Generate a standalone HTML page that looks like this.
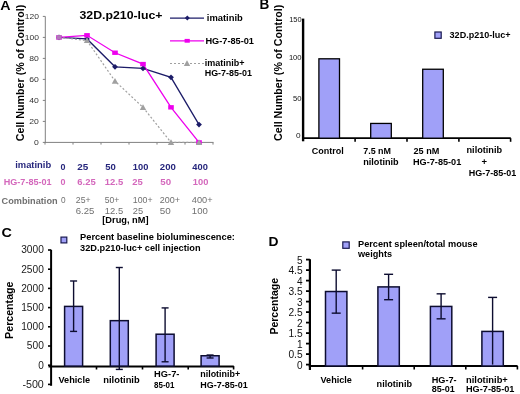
<!DOCTYPE html>
<html><head><meta charset="utf-8"><style>
html,body{margin:0;padding:0;background:#fff;}
body{width:520px;height:394px;overflow:hidden;}
svg{display:block;font-family:"Liberation Sans", sans-serif;will-change:transform;}
</style></head><body>
<svg width="520" height="394" viewBox="0 0 520 394">
<rect width="520" height="394" fill="#fff"/>
<text x="0.2" y="9.7" font-size="13.6" font-weight="bold" fill="#000" textLength="10.3" lengthAdjust="spacingAndGlyphs">A</text>
<text x="79.5" y="19.2" font-size="11.2" font-weight="bold" fill="#000" textLength="83" lengthAdjust="spacingAndGlyphs">32D.p210-luc+</text>
<text transform="translate(23.7,73) rotate(-90)" x="0" y="0" font-size="11.2" font-weight="bold" fill="#000" text-anchor="middle" textLength="136.5" lengthAdjust="spacingAndGlyphs">Cell Number (% of Control)</text>
<line x1="45.3" y1="16.4" x2="45.3" y2="142.9" stroke="#808080" stroke-width="1"/>
<line x1="44.8" y1="142.4" x2="213.5" y2="142.4" stroke="#808080" stroke-width="1"/>
<line x1="42.8" y1="16.400000000000006" x2="45.3" y2="16.400000000000006" stroke="#808080" stroke-width="1"/>
<text x="38.9" y="19.000000000000007" font-size="7.3" fill="#333" text-anchor="end" textLength="14.2" lengthAdjust="spacingAndGlyphs">120</text>
<line x1="42.8" y1="37.400000000000006" x2="45.3" y2="37.400000000000006" stroke="#808080" stroke-width="1"/>
<text x="38.9" y="40.00000000000001" font-size="7.3" fill="#333" text-anchor="end" textLength="14.2" lengthAdjust="spacingAndGlyphs">100</text>
<line x1="42.8" y1="58.400000000000006" x2="45.3" y2="58.400000000000006" stroke="#808080" stroke-width="1"/>
<text x="38.9" y="61.00000000000001" font-size="7.3" fill="#333" text-anchor="end" textLength="9.6" lengthAdjust="spacingAndGlyphs">80</text>
<line x1="42.8" y1="79.4" x2="45.3" y2="79.4" stroke="#808080" stroke-width="1"/>
<text x="38.9" y="82.0" font-size="7.3" fill="#333" text-anchor="end" textLength="9.6" lengthAdjust="spacingAndGlyphs">60</text>
<line x1="42.8" y1="100.4" x2="45.3" y2="100.4" stroke="#808080" stroke-width="1"/>
<text x="38.9" y="103.0" font-size="7.3" fill="#333" text-anchor="end" textLength="9.6" lengthAdjust="spacingAndGlyphs">40</text>
<line x1="42.8" y1="121.4" x2="45.3" y2="121.4" stroke="#808080" stroke-width="1"/>
<text x="38.9" y="124.0" font-size="7.3" fill="#333" text-anchor="end" textLength="9.6" lengthAdjust="spacingAndGlyphs">20</text>
<line x1="42.8" y1="142.4" x2="45.3" y2="142.4" stroke="#808080" stroke-width="1"/>
<text x="38.9" y="145.0" font-size="7.3" fill="#333" text-anchor="end" textLength="4.8" lengthAdjust="spacingAndGlyphs">0</text>
<line x1="45" y1="142.4" x2="45" y2="144.6" stroke="#808080" stroke-width="1"/>
<line x1="73" y1="142.4" x2="73" y2="144.6" stroke="#808080" stroke-width="1"/>
<line x1="101" y1="142.4" x2="101" y2="144.6" stroke="#808080" stroke-width="1"/>
<line x1="129" y1="142.4" x2="129" y2="144.6" stroke="#808080" stroke-width="1"/>
<line x1="157" y1="142.4" x2="157" y2="144.6" stroke="#808080" stroke-width="1"/>
<line x1="185" y1="142.4" x2="185" y2="144.6" stroke="#808080" stroke-width="1"/>
<line x1="213" y1="142.4" x2="213" y2="144.6" stroke="#808080" stroke-width="1"/>
<polyline points="59,37.40 87,38.97 115,66.80 143,68.38 171,77.30 199,124.55" fill="none" stroke="#1c1c68" stroke-width="1.3"/>
<polyline points="59,37.40 87,35.30 115,52.73 143,64.07 171,107.33 199,142.40" fill="none" stroke="#ee00ee" stroke-width="1.3"/>
<polyline points="59,37.40 87,40.55 115,81.08 143,107.33 171,142.40 199,142.40" fill="none" stroke="#a0a0a0" stroke-width="1.2" stroke-dasharray="2,2"/>
<path d="M59,34.50000000000001 L61.9,37.400000000000006 L59,40.300000000000004 L56.1,37.400000000000006 Z" fill="#1c1c68" stroke="none" stroke-width="1"/>
<path d="M87,36.074999999999996 L89.9,38.974999999999994 L87,41.87499999999999 L84.1,38.974999999999994 Z" fill="#1c1c68" stroke="none" stroke-width="1"/>
<path d="M115,63.9 L117.9,66.8 L115,69.7 L112.1,66.8 Z" fill="#1c1c68" stroke="none" stroke-width="1"/>
<path d="M143,65.475 L145.9,68.375 L143,71.275 L140.1,68.375 Z" fill="#1c1c68" stroke="none" stroke-width="1"/>
<path d="M171,74.39999999999999 L173.9,77.3 L171,80.2 L168.1,77.3 Z" fill="#1c1c68" stroke="none" stroke-width="1"/>
<path d="M199,121.65 L201.9,124.55000000000001 L199,127.45000000000002 L196.1,124.55000000000001 Z" fill="#1c1c68" stroke="none" stroke-width="1"/>
<rect x="56.2" y="35.2" width="5.6" height="4.4" fill="#ee00ee"/>
<rect x="84.2" y="33.099999999999994" width="5.6" height="4.4" fill="#ee00ee"/>
<rect x="112.2" y="50.52999999999999" width="5.6" height="4.4" fill="#ee00ee"/>
<rect x="140.2" y="61.870000000000005" width="5.6" height="4.4" fill="#ee00ee"/>
<rect x="168.2" y="105.13000000000001" width="5.6" height="4.4" fill="#ee00ee"/>
<rect x="196.2" y="140.20000000000002" width="5.6" height="4.4" fill="#ee00ee"/>
<path d="M87,37.349999999999994 L90.2,43.11 L83.8,43.11 Z" fill="#a0a0a0" stroke="none" stroke-width="1"/>
<path d="M115,77.88000000000001 L118.2,83.64000000000001 L111.8,83.64000000000001 Z" fill="#a0a0a0" stroke="none" stroke-width="1"/>
<path d="M143,104.13000000000001 L146.2,109.89000000000001 L139.8,109.89000000000001 Z" fill="#a0a0a0" stroke="none" stroke-width="1"/>
<path d="M171,139.20000000000002 L174.2,144.96 L167.8,144.96 Z" fill="#a0a0a0" stroke="none" stroke-width="1"/>
<path d="M199,139.20000000000002 L202.2,144.96 L195.8,144.96 Z" fill="#a0a0a0" stroke="none" stroke-width="1"/>
<rect x="56.4" y="35.2" width="5.2" height="4.4" fill="#b07ab8"/>
<line x1="170" y1="18.1" x2="204" y2="18.1" stroke="#1c1c68" stroke-width="1.3"/>
<path d="M187.3,15.600000000000001 L189.8,18.1 L187.3,20.6 L184.8,18.1 Z" fill="#1c1c68" stroke="none" stroke-width="1"/>
<text x="206.8" y="21.4" font-size="9.3" font-weight="bold" fill="#000" textLength="36" lengthAdjust="spacingAndGlyphs">imatinib</text>
<line x1="170" y1="40.8" x2="204" y2="40.8" stroke="#ee00ee" stroke-width="1.3"/>
<rect x="184.6" y="38.9" width="5.2" height="3.8" fill="#ee00ee"/>
<text x="205.4" y="44.2" font-size="9.3" font-weight="bold" fill="#000" textLength="48.6" lengthAdjust="spacingAndGlyphs">HG-7-85-01</text>
<line x1="170" y1="63.5" x2="204" y2="63.5" stroke="#a0a0a0" stroke-width="1.2" stroke-dasharray="2,2"/>
<path d="M187,60.3 L190.2,66.06 L183.8,66.06 Z" fill="#a0a0a0" stroke="none" stroke-width="1"/>
<text x="204.7" y="65.8" font-size="9.3" font-weight="bold" fill="#000" textLength="39.8" lengthAdjust="spacingAndGlyphs">imatinib+</text>
<text x="204.7" y="76.4" font-size="9.3" font-weight="bold" fill="#000" textLength="47.2" lengthAdjust="spacingAndGlyphs">HG-7-85-01</text>
<text x="15.2" y="167.9" font-size="9.3" font-weight="bold" fill="#26267c" textLength="36" lengthAdjust="spacingAndGlyphs">imatinib</text>
<text x="3.7" y="185.3" font-size="9" font-weight="bold" fill="#d468bc" textLength="48" lengthAdjust="spacingAndGlyphs">HG-7-85-01</text>
<text x="1.6" y="203.6" font-size="9.2" font-weight="bold" fill="#707070" textLength="56" lengthAdjust="spacingAndGlyphs">Combination</text>
<text x="60.4" y="169.8" font-size="8.3" font-weight="bold" fill="#26267c" textLength="5" lengthAdjust="spacingAndGlyphs">0</text>
<text x="77.3" y="169.8" font-size="8.3" font-weight="bold" fill="#26267c" textLength="11" lengthAdjust="spacingAndGlyphs">25</text>
<text x="105.3" y="169.8" font-size="8.3" font-weight="bold" fill="#26267c" textLength="10.6" lengthAdjust="spacingAndGlyphs">50</text>
<text x="132.8" y="169.8" font-size="8.3" font-weight="bold" fill="#26267c" textLength="15.5" lengthAdjust="spacingAndGlyphs">100</text>
<text x="159.8" y="169.8" font-size="8.3" font-weight="bold" fill="#26267c" textLength="16" lengthAdjust="spacingAndGlyphs">200</text>
<text x="192.3" y="169.8" font-size="8.3" font-weight="bold" fill="#26267c" textLength="15.5" lengthAdjust="spacingAndGlyphs">400</text>
<text x="60.4" y="184.8" font-size="8.3" font-weight="bold" fill="#d468bc" textLength="5" lengthAdjust="spacingAndGlyphs">0</text>
<text x="77.3" y="184.8" font-size="8.3" font-weight="bold" fill="#d468bc" textLength="18.4" lengthAdjust="spacingAndGlyphs">6.25</text>
<text x="104.8" y="184.8" font-size="8.3" font-weight="bold" fill="#d468bc" textLength="18.4" lengthAdjust="spacingAndGlyphs">12.5</text>
<text x="132.3" y="184.8" font-size="8.3" font-weight="bold" fill="#d468bc" textLength="10.5" lengthAdjust="spacingAndGlyphs">25</text>
<text x="160.3" y="184.8" font-size="8.3" font-weight="bold" fill="#d468bc" textLength="10.8" lengthAdjust="spacingAndGlyphs">50</text>
<text x="192.8" y="184.8" font-size="8.3" font-weight="bold" fill="#d468bc" textLength="15.5" lengthAdjust="spacingAndGlyphs">100</text>
<text x="60.9" y="202.8" font-size="8.8" fill="#707070" textLength="4.6" lengthAdjust="spacingAndGlyphs">0</text>
<text x="75.8" y="202.8" font-size="8.8" fill="#707070" textLength="14.8" lengthAdjust="spacingAndGlyphs">25+</text>
<text x="104.8" y="202.8" font-size="8.8" fill="#707070" textLength="14.6" lengthAdjust="spacingAndGlyphs">50+</text>
<text x="132.8" y="202.8" font-size="8.8" fill="#707070" textLength="19.8" lengthAdjust="spacingAndGlyphs">100+</text>
<text x="159.8" y="202.8" font-size="8.8" fill="#707070" textLength="20.3" lengthAdjust="spacingAndGlyphs">200+</text>
<text x="191.8" y="202.8" font-size="8.8" fill="#707070" textLength="20.8" lengthAdjust="spacingAndGlyphs">400+</text>
<text x="75.8" y="213.8" font-size="8.8" fill="#707070" textLength="18.6" lengthAdjust="spacingAndGlyphs">6.25</text>
<text x="104.8" y="213.8" font-size="8.8" fill="#707070" textLength="18.4" lengthAdjust="spacingAndGlyphs">12.5</text>
<text x="132.8" y="213.8" font-size="8.8" fill="#707070" textLength="10.4" lengthAdjust="spacingAndGlyphs">25</text>
<text x="159.8" y="213.8" font-size="8.8" fill="#707070" textLength="11" lengthAdjust="spacingAndGlyphs">50</text>
<text x="191.8" y="213.8" font-size="8.8" fill="#707070" textLength="16" lengthAdjust="spacingAndGlyphs">100</text>
<text x="102.3" y="222.9" font-size="9.5" font-weight="bold" fill="#000" textLength="46.2" lengthAdjust="spacingAndGlyphs">[Drug, nM]</text>
<text x="259.4" y="9.3" font-size="14.2" font-weight="bold" fill="#000" textLength="9.8" lengthAdjust="spacingAndGlyphs">B</text>
<text transform="translate(282.1,72.8) rotate(-90)" x="0" y="0" font-size="11.2" font-weight="bold" fill="#000" text-anchor="middle" textLength="136.2" lengthAdjust="spacingAndGlyphs">Cell Number (% of Control)</text>
<line x1="303.1" y1="18.6" x2="303.1" y2="141.3" stroke="#000" stroke-width="2.4"/>
<line x1="302" y1="138.2" x2="510.8" y2="138.2" stroke="#000" stroke-width="1.7"/>
<line x1="355.1" y1="138.2" x2="355.1" y2="141.8" stroke="#000" stroke-width="1.6"/>
<line x1="407.0" y1="138.2" x2="407.0" y2="141.8" stroke="#000" stroke-width="1.6"/>
<line x1="458.9" y1="138.2" x2="458.9" y2="141.8" stroke="#000" stroke-width="1.6"/>
<line x1="510.6" y1="138.2" x2="510.6" y2="141.8" stroke="#000" stroke-width="1.6"/>
<text x="301.6" y="22.2" font-size="7.6" fill="#111" text-anchor="end" textLength="12.4" lengthAdjust="spacingAndGlyphs">150</text>
<text x="301.6" y="59.9" font-size="7.6" fill="#111" text-anchor="end" textLength="12.7" lengthAdjust="spacingAndGlyphs">100</text>
<text x="301.6" y="101.2" font-size="7.6" fill="#111" text-anchor="end" textLength="8.5" lengthAdjust="spacingAndGlyphs">50</text>
<text x="300.6" y="137.5" font-size="7.6" fill="#111" text-anchor="end" textLength="4.6" lengthAdjust="spacingAndGlyphs">0</text>
<rect x="318.9" y="58.79999999999998" width="20.6" height="79.4" fill="#a0a0f8" stroke="#000" stroke-width="1.3"/>
<rect x="370.7" y="123.44149999999999" width="20.6" height="14.758499999999998" fill="#a0a0f8" stroke="#000" stroke-width="1.3"/>
<rect x="422.7" y="69.23899999999999" width="20.6" height="68.961" fill="#a0a0f8" stroke="#000" stroke-width="1.3"/>
<rect x="434.9" y="32" width="6.3" height="6.3" fill="#a0a0f8" stroke="#1a1a50" stroke-width="1.2"/>
<text x="449.6" y="38.4" font-size="9" font-weight="bold" fill="#000" textLength="61" lengthAdjust="spacingAndGlyphs">32D.p210-luc+</text>
<text x="311.7" y="153.8" font-size="9.5" font-weight="bold" fill="#000" textLength="32" lengthAdjust="spacingAndGlyphs">Control</text>
<text x="363.2" y="153.8" font-size="9.5" font-weight="bold" fill="#000" textLength="27.8" lengthAdjust="spacingAndGlyphs">7.5 nM</text>
<text x="363.2" y="164.7" font-size="9.5" font-weight="bold" fill="#000" textLength="35.5" lengthAdjust="spacingAndGlyphs">nilotinib</text>
<text x="413.5" y="153.6" font-size="9.5" font-weight="bold" fill="#000" textLength="25.8" lengthAdjust="spacingAndGlyphs">25 nM</text>
<text x="413.0" y="164.7" font-size="9.5" font-weight="bold" fill="#000" textLength="48.3" lengthAdjust="spacingAndGlyphs">HG-7-85-01</text>
<text x="466.5" y="153.4" font-size="9.5" font-weight="bold" fill="#000" textLength="35.6" lengthAdjust="spacingAndGlyphs">nilotinib</text>
<text x="484.3" y="165.0" font-size="9.5" font-weight="bold" fill="#000" text-anchor="middle">+</text>
<text x="468.8" y="176.2" font-size="9.5" font-weight="bold" fill="#000" textLength="47.5" lengthAdjust="spacingAndGlyphs">HG-7-85-01</text>
<text x="1.5" y="236.8" font-size="13.6" font-weight="bold" fill="#000" textLength="10.4" lengthAdjust="spacingAndGlyphs">C</text>
<text transform="translate(13.2,310.2) rotate(-90)" x="0" y="0" font-size="10.8" font-weight="bold" fill="#000" text-anchor="middle" textLength="57.4" lengthAdjust="spacingAndGlyphs">Percentage</text>
<line x1="51.1" y1="249.7" x2="51.1" y2="385.8" stroke="#000" stroke-width="2"/>
<line x1="48.5" y1="366.5" x2="233.8" y2="366.5" stroke="#000" stroke-width="2"/>
<line x1="48" y1="250.0" x2="51" y2="250.0" stroke="#000" stroke-width="1.6"/>
<text x="43.8" y="253.4" font-size="10.3" fill="#1a1a1a" text-anchor="end" textLength="22.6" lengthAdjust="spacingAndGlyphs">3000</text>
<line x1="48" y1="269.2" x2="51" y2="269.2" stroke="#000" stroke-width="1.6"/>
<text x="43.8" y="272.59999999999997" font-size="10.3" fill="#1a1a1a" text-anchor="end" textLength="22.6" lengthAdjust="spacingAndGlyphs">2500</text>
<line x1="48" y1="288.4" x2="51" y2="288.4" stroke="#000" stroke-width="1.6"/>
<text x="43.8" y="291.79999999999995" font-size="10.3" fill="#1a1a1a" text-anchor="end" textLength="22.6" lengthAdjust="spacingAndGlyphs">2000</text>
<line x1="48" y1="307.6" x2="51" y2="307.6" stroke="#000" stroke-width="1.6"/>
<text x="43.8" y="311.0" font-size="10.3" fill="#1a1a1a" text-anchor="end" textLength="22.6" lengthAdjust="spacingAndGlyphs">1500</text>
<line x1="48" y1="326.8" x2="51" y2="326.8" stroke="#000" stroke-width="1.6"/>
<text x="43.8" y="330.2" font-size="10.3" fill="#1a1a1a" text-anchor="end" textLength="22.6" lengthAdjust="spacingAndGlyphs">1000</text>
<line x1="48" y1="346.0" x2="51" y2="346.0" stroke="#000" stroke-width="1.6"/>
<text x="43.8" y="349.4" font-size="10.3" fill="#1a1a1a" text-anchor="end" textLength="17" lengthAdjust="spacingAndGlyphs">500</text>
<line x1="48" y1="365.2" x2="51" y2="365.2" stroke="#000" stroke-width="1.6"/>
<text x="43.8" y="368.59999999999997" font-size="10.3" fill="#1a1a1a" text-anchor="end" textLength="5.6" lengthAdjust="spacingAndGlyphs">0</text>
<line x1="48" y1="384.4" x2="51" y2="384.4" stroke="#000" stroke-width="1.6"/>
<text x="43.8" y="387.79999999999995" font-size="10.3" fill="#1a1a1a" text-anchor="end" textLength="21.4" lengthAdjust="spacingAndGlyphs">-500</text>
<line x1="96.5" y1="366.1" x2="96.5" y2="369.5" stroke="#000" stroke-width="1.6"/>
<line x1="142.5" y1="366.1" x2="142.5" y2="369.5" stroke="#000" stroke-width="1.6"/>
<line x1="188.2" y1="366.1" x2="188.2" y2="369.5" stroke="#000" stroke-width="1.6"/>
<line x1="233.6" y1="366.1" x2="233.6" y2="369.5" stroke="#000" stroke-width="1.6"/>
<rect x="64.6" y="306.4096" width="18" height="59.69040000000001" fill="#a0a0f8" stroke="#0d0d30" stroke-width="1.5"/>
<line x1="73.6" y1="280.98879999999997" x2="73.6" y2="331.408" stroke="#0d0d30" stroke-width="1.4"/>
<line x1="70.1" y1="280.98879999999997" x2="77.1" y2="280.98879999999997" stroke="#0d0d30" stroke-width="1.4"/>
<line x1="70.1" y1="331.408" x2="77.1" y2="331.408" stroke="#0d0d30" stroke-width="1.4"/>
<rect x="110.3" y="320.656" width="18" height="45.44400000000002" fill="#a0a0f8" stroke="#0d0d30" stroke-width="1.5"/>
<line x1="119.3" y1="267.5104" x2="119.3" y2="369.424" stroke="#0d0d30" stroke-width="1.4"/>
<line x1="115.8" y1="267.5104" x2="122.8" y2="267.5104" stroke="#0d0d30" stroke-width="1.4"/>
<line x1="115.8" y1="369.424" x2="122.8" y2="369.424" stroke="#0d0d30" stroke-width="1.4"/>
<rect x="156.1" y="334.21119999999996" width="18" height="31.88880000000006" fill="#a0a0f8" stroke="#0d0d30" stroke-width="1.5"/>
<line x1="165.1" y1="307.9072" x2="165.1" y2="361.7824" stroke="#0d0d30" stroke-width="1.4"/>
<line x1="161.6" y1="307.9072" x2="168.6" y2="307.9072" stroke="#0d0d30" stroke-width="1.4"/>
<line x1="161.6" y1="361.7824" x2="168.6" y2="361.7824" stroke="#0d0d30" stroke-width="1.4"/>
<rect x="201.1" y="355.7536" width="18" height="10.346400000000017" fill="#a0a0f8" stroke="#0d0d30" stroke-width="1.5"/>
<line x1="210.1" y1="355.024" x2="210.1" y2="357.9808" stroke="#0d0d30" stroke-width="1.4"/>
<line x1="206.6" y1="355.024" x2="213.6" y2="355.024" stroke="#0d0d30" stroke-width="1.4"/>
<line x1="206.6" y1="357.9808" x2="213.6" y2="357.9808" stroke="#0d0d30" stroke-width="1.4"/>
<rect x="61" y="237.1" width="5.8" height="5.8" fill="#a0a0f8" stroke="#1a1a50" stroke-width="1.2"/>
<text x="80.1" y="240.4" font-size="9.6" font-weight="bold" fill="#000" textLength="154.8" lengthAdjust="spacingAndGlyphs">Percent baseline bioluminescence:</text>
<text x="80.1" y="251.2" font-size="9.6" font-weight="bold" fill="#000" textLength="120.5" lengthAdjust="spacingAndGlyphs">32D.p210-luc+ cell injection</text>
<text x="58.5" y="382.5" font-size="9.5" font-weight="bold" fill="#000" textLength="31.6" lengthAdjust="spacingAndGlyphs">Vehicle</text>
<text x="103.3" y="382.5" font-size="9.5" font-weight="bold" fill="#000" textLength="36.4" lengthAdjust="spacingAndGlyphs">nilotinib</text>
<text x="154.1" y="377.0" font-size="9.5" font-weight="bold" fill="#000" textLength="25.4" lengthAdjust="spacingAndGlyphs">HG-7-</text>
<text x="154.1" y="388.3" font-size="9.5" font-weight="bold" fill="#000" textLength="20.4" lengthAdjust="spacingAndGlyphs">85-01</text>
<text x="200.3" y="377.0" font-size="9.5" font-weight="bold" fill="#000" textLength="39.8" lengthAdjust="spacingAndGlyphs">nilotinib+</text>
<text x="200.3" y="388.3" font-size="9.5" font-weight="bold" fill="#000" textLength="47.4" lengthAdjust="spacingAndGlyphs">HG-7-85-01</text>
<text x="268.5" y="245.6" font-size="13.6" font-weight="bold" fill="#000" textLength="10" lengthAdjust="spacingAndGlyphs">D</text>
<text transform="translate(277.5,306.3) rotate(-90)" x="0" y="0" font-size="10.4" font-weight="bold" fill="#000" text-anchor="middle" textLength="56.6" lengthAdjust="spacingAndGlyphs">Percentage</text>
<line x1="309.9" y1="259.2" x2="309.9" y2="370" stroke="#000" stroke-width="2.2"/>
<line x1="308.8" y1="366.0" x2="517.6" y2="366.0" stroke="#000" stroke-width="2"/>
<line x1="306" y1="364.6" x2="309.9" y2="364.6" stroke="#000" stroke-width="1.8"/>
<text x="302.6" y="368.70000000000005" font-size="11.4" fill="#111" text-anchor="end" textLength="5.6" lengthAdjust="spacingAndGlyphs">0</text>
<line x1="306" y1="354.1" x2="309.9" y2="354.1" stroke="#000" stroke-width="1.8"/>
<text x="302.6" y="358.20000000000005" font-size="11.4" fill="#111" text-anchor="end" textLength="14.2" lengthAdjust="spacingAndGlyphs">0.5</text>
<line x1="306" y1="343.6" x2="309.9" y2="343.6" stroke="#000" stroke-width="1.8"/>
<text x="302.6" y="347.70000000000005" font-size="11.4" fill="#111" text-anchor="end" textLength="5.6" lengthAdjust="spacingAndGlyphs">1</text>
<line x1="306" y1="333.1" x2="309.9" y2="333.1" stroke="#000" stroke-width="1.8"/>
<text x="302.6" y="337.20000000000005" font-size="11.4" fill="#111" text-anchor="end" textLength="14.2" lengthAdjust="spacingAndGlyphs">1.5</text>
<line x1="306" y1="322.6" x2="309.9" y2="322.6" stroke="#000" stroke-width="1.8"/>
<text x="302.6" y="326.70000000000005" font-size="11.4" fill="#111" text-anchor="end" textLength="5.6" lengthAdjust="spacingAndGlyphs">2</text>
<line x1="306" y1="312.1" x2="309.9" y2="312.1" stroke="#000" stroke-width="1.8"/>
<text x="302.6" y="316.20000000000005" font-size="11.4" fill="#111" text-anchor="end" textLength="14.2" lengthAdjust="spacingAndGlyphs">2.5</text>
<line x1="306" y1="301.6" x2="309.9" y2="301.6" stroke="#000" stroke-width="1.8"/>
<text x="302.6" y="305.70000000000005" font-size="11.4" fill="#111" text-anchor="end" textLength="5.6" lengthAdjust="spacingAndGlyphs">3</text>
<line x1="306" y1="291.1" x2="309.9" y2="291.1" stroke="#000" stroke-width="1.8"/>
<text x="302.6" y="295.20000000000005" font-size="11.4" fill="#111" text-anchor="end" textLength="14.2" lengthAdjust="spacingAndGlyphs">3.5</text>
<line x1="306" y1="280.6" x2="309.9" y2="280.6" stroke="#000" stroke-width="1.8"/>
<text x="302.6" y="284.70000000000005" font-size="11.4" fill="#111" text-anchor="end" textLength="5.6" lengthAdjust="spacingAndGlyphs">4</text>
<line x1="306" y1="270.1" x2="309.9" y2="270.1" stroke="#000" stroke-width="1.8"/>
<text x="302.6" y="274.20000000000005" font-size="11.4" fill="#111" text-anchor="end" textLength="14.2" lengthAdjust="spacingAndGlyphs">4.5</text>
<line x1="306" y1="259.6" x2="309.9" y2="259.6" stroke="#000" stroke-width="1.8"/>
<text x="302.6" y="263.70000000000005" font-size="11.4" fill="#111" text-anchor="end" textLength="5.6" lengthAdjust="spacingAndGlyphs">5</text>
<line x1="362.6" y1="366" x2="362.6" y2="369.5" stroke="#000" stroke-width="1.6"/>
<line x1="414.2" y1="366" x2="414.2" y2="369.5" stroke="#000" stroke-width="1.6"/>
<line x1="465.8" y1="366" x2="465.8" y2="369.5" stroke="#000" stroke-width="1.6"/>
<line x1="517.4" y1="366" x2="517.4" y2="369.5" stroke="#000" stroke-width="1.6"/>
<rect x="325.5" y="291.52000000000004" width="21.4" height="74.47999999999996" fill="#a0a0f8" stroke="#0d0d30" stroke-width="1.5"/>
<line x1="336.2" y1="270.1" x2="336.2" y2="313.15000000000003" stroke="#0d0d30" stroke-width="1.4"/>
<line x1="331.7" y1="270.1" x2="340.7" y2="270.1" stroke="#0d0d30" stroke-width="1.4"/>
<line x1="331.7" y1="313.15000000000003" x2="340.7" y2="313.15000000000003" stroke="#0d0d30" stroke-width="1.4"/>
<rect x="377.90000000000003" y="286.90000000000003" width="21.4" height="79.09999999999997" fill="#a0a0f8" stroke="#0d0d30" stroke-width="1.5"/>
<line x1="388.6" y1="274.3" x2="388.6" y2="299.71000000000004" stroke="#0d0d30" stroke-width="1.4"/>
<line x1="384.1" y1="274.3" x2="393.1" y2="274.3" stroke="#0d0d30" stroke-width="1.4"/>
<line x1="384.1" y1="299.71000000000004" x2="393.1" y2="299.71000000000004" stroke="#0d0d30" stroke-width="1.4"/>
<rect x="430.40000000000003" y="306.43" width="21.4" height="59.56999999999999" fill="#a0a0f8" stroke="#0d0d30" stroke-width="1.5"/>
<line x1="441.1" y1="293.83000000000004" x2="441.1" y2="318.82000000000005" stroke="#0d0d30" stroke-width="1.4"/>
<line x1="436.6" y1="293.83000000000004" x2="445.6" y2="293.83000000000004" stroke="#0d0d30" stroke-width="1.4"/>
<line x1="436.6" y1="318.82000000000005" x2="445.6" y2="318.82000000000005" stroke="#0d0d30" stroke-width="1.4"/>
<rect x="481.90000000000003" y="331.42" width="21.4" height="34.579999999999984" fill="#a0a0f8" stroke="#0d0d30" stroke-width="1.5"/>
<line x1="492.6" y1="297.40000000000003" x2="492.6" y2="364.6" stroke="#0d0d30" stroke-width="1.4"/>
<line x1="488.1" y1="297.40000000000003" x2="497.1" y2="297.40000000000003" stroke="#0d0d30" stroke-width="1.4"/>
<rect x="342.8" y="241.9" width="6.4" height="6.4" fill="#a0a0f8" stroke="#1a1a50" stroke-width="1.2"/>
<text x="358.0" y="246.6" font-size="9.6" font-weight="bold" fill="#000" textLength="119.6" lengthAdjust="spacingAndGlyphs">Percent spleen/total mouse</text>
<text x="358.0" y="257.2" font-size="9.6" font-weight="bold" fill="#000" textLength="34" lengthAdjust="spacingAndGlyphs">weights</text>
<text x="320.5" y="383.0" font-size="9.5" font-weight="bold" fill="#000" textLength="31.4" lengthAdjust="spacingAndGlyphs">Vehicle</text>
<text x="376.6" y="386.9" font-size="9.5" font-weight="bold" fill="#000" textLength="35.4" lengthAdjust="spacingAndGlyphs">nilotinib</text>
<text x="431.7" y="382.7" font-size="9.5" font-weight="bold" fill="#000" textLength="25" lengthAdjust="spacingAndGlyphs">HG-7-</text>
<text x="431.7" y="392.3" font-size="9.5" font-weight="bold" fill="#000" textLength="23.2" lengthAdjust="spacingAndGlyphs">85-01</text>
<text x="466.0" y="382.7" font-size="9.5" font-weight="bold" fill="#000" textLength="41.8" lengthAdjust="spacingAndGlyphs">nilotinib+</text>
<text x="466.0" y="392.3" font-size="9.5" font-weight="bold" fill="#000" textLength="48.4" lengthAdjust="spacingAndGlyphs">HG-7-85-01</text>
</svg>
</body></html>
